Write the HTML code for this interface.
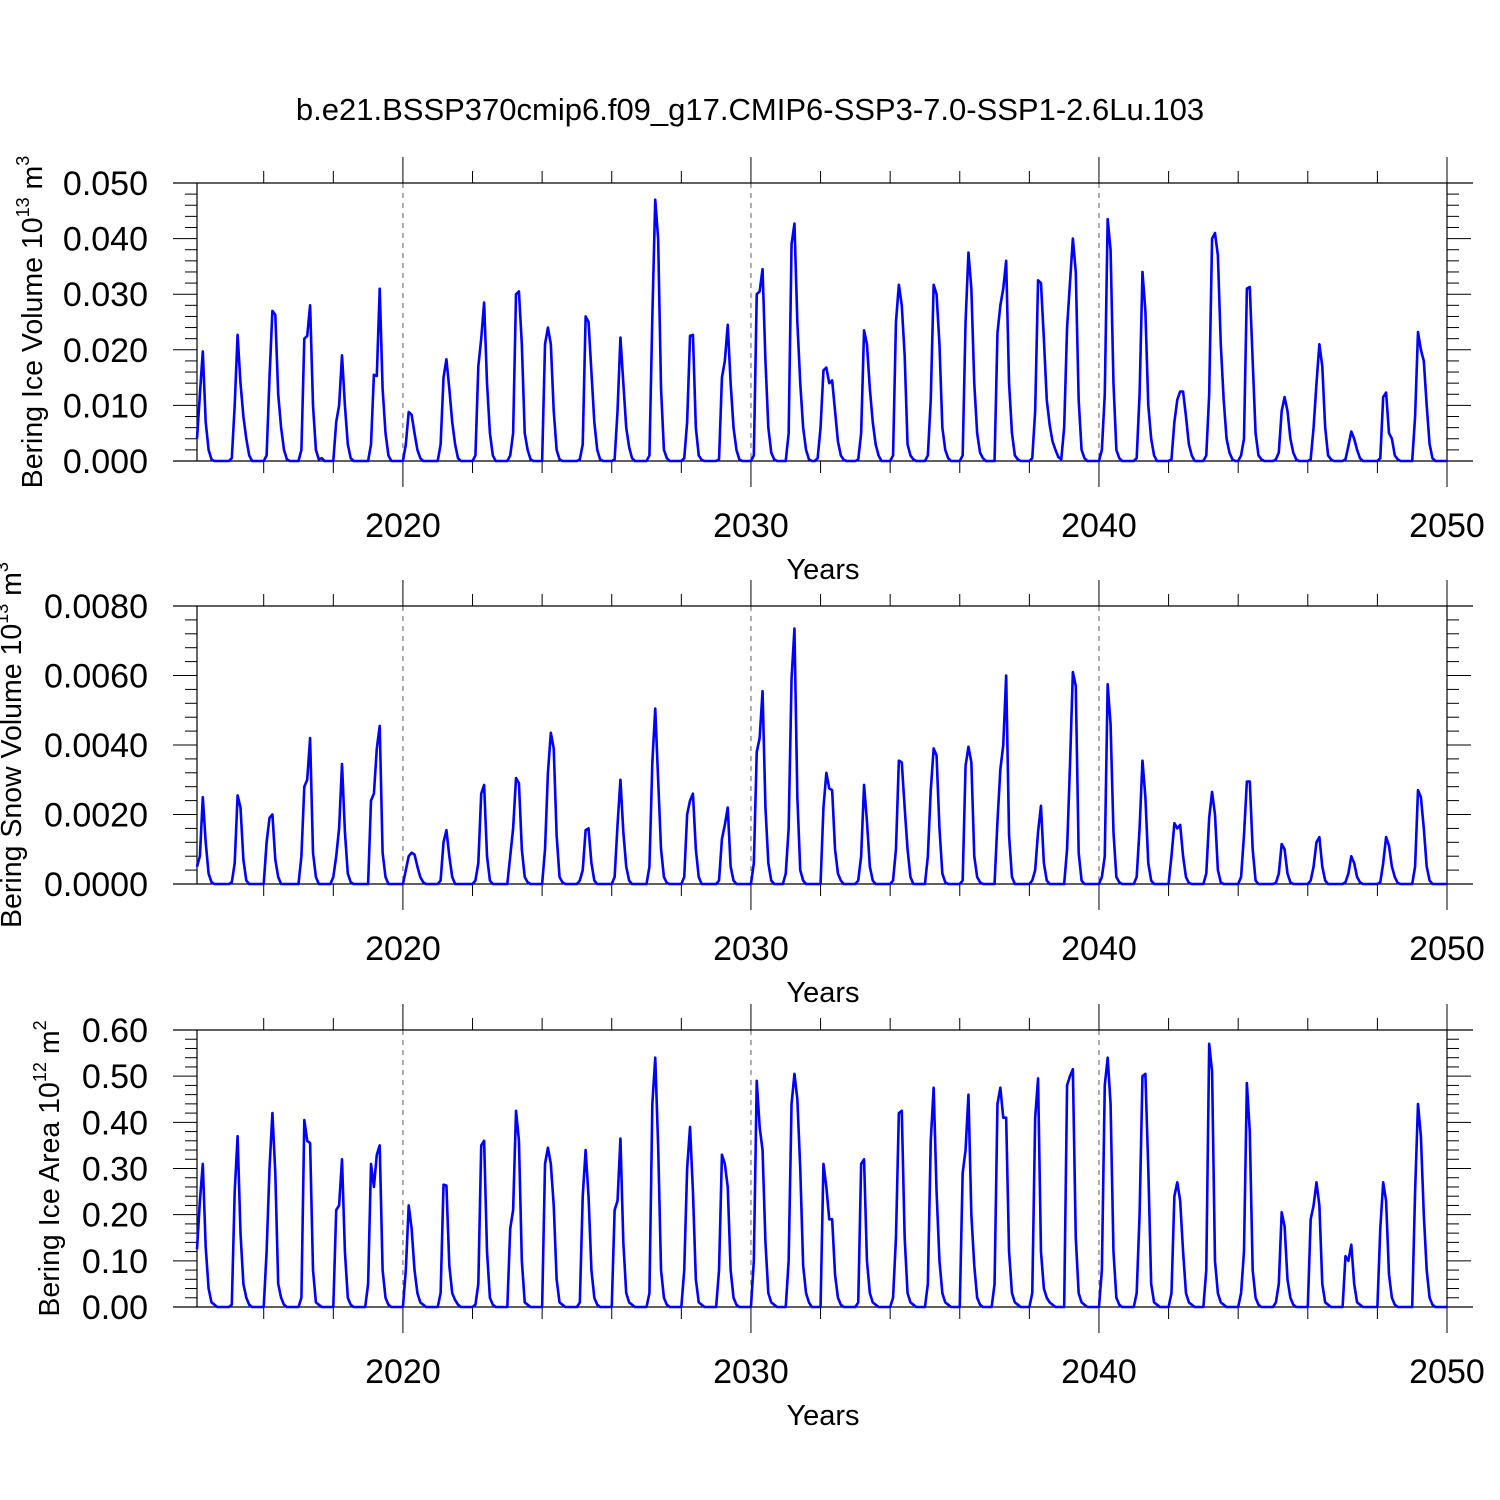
<!DOCTYPE html>
<html><head><meta charset="utf-8"><style>
html,body{margin:0;padding:0;background:#fff}
svg{display:block;font-family:"Liberation Sans",Arial,sans-serif}
</style></head><body>
<svg id="chart" width="1500" height="1500" viewBox="0 0 1500 1500" xmlns="http://www.w3.org/2000/svg">
<rect width="1500" height="1500" fill="#fff"/>
<text x="750" y="120" font-size="31" text-anchor="middle">b.e21.BSSP370cmip6.f09_g17.CMIP6-SSP3-7.0-SSP1-2.6Lu.103</text>
</svg>
<script>
// Monthly values per year (first 8 months of each year, remaining months ~0)
const startYear = 2014;
const iceVolume = [ // x 1e-3 (10^13 m3)
[4,12,19.7,7,2,0.3,0,0],[0.5,10,22.7,14,8,4,1,0],[1,15,27,26.3,12,6,2,0.3],[2,22,22.5,28,10,2,0.3,0.5],
[7,10,19,10,3,0.5,0,0],[3,15.5,15.3,31,13,5,1,0],[3,8.8,8.3,5,2,0.5,0,0],[3,15,18.3,13,7,3,0.5,0],
[1,17,22,28.5,14,5,1,0],[1,5,30,30.5,21,5,2,0.3],[21,24,21,9,2,0.3,0,0],[0.3,3,26,25,16,7,2,0.3],
[0.3,9,22.2,14,6,2.5,0.5,0],[1,26,47,40,13,2,0.5,0],[0.5,7,22.5,22.7,6,1,0.2,0],[0.3,15,18,24.5,14,6,2,0.3],
[1,30,30.5,34.5,18,6,1.5,0.3],[5,39,42.7,25,14,6,2,0.3,0,0,0.5,6],[16.3,16.8,14,14.5,9,3.5,1,0.2],[0.3,5,23.5,21,13,7,3,1],
[1,25,31.7,28,19,3,1,0.3],[1,11,31.7,30,21,6,2,0.5],[1,25,37.5,31,14,5,1.5,0.5],[23,28,31,36,14,5,1,0.3],
[0.5,9,32.5,32,22,11,6.5,3.5,2,0.7,0.3,6],[24,32,40,34,11,2,0.5,0],[2,12,43.5,38,14,2,0.5,0],[0.5,12,34,27,10,4,1,0],
[0.3,7,11,12.5,12.5,8,3,1],[1,12,40,41,37,21,11,4,1.5,0.3,0,0],[1,4,31,31.3,18,5,1,0.3],[0.3,1.5,9,11.5,9,4,1.5,0.3],
[0.3,6,14,21,17,6,1,0.3],[0.3,2.7,5.3,4,2,0.5,0,0],[0.5,11.5,12.3,5,4,1,0.3,0],[8,23.2,20,18,10,3,0.5,0]
];
const snowVolume = [ // x 1e-4
[5,8,25,12,3,0.5,0,0],[0.5,6,25.5,22,7,1,0,0],[12,19,20,7,2,0,0,0],[8,28,30,42,9,2,0,0,0,0,0,2],
[8,16,34.5,15,3,0.5,0,0],[24,26,39,45.5,9,2,0,0],[4,8,9,8.5,5,2,0.5,0],[1,12,15.5,8,2,0,0,0],
[1,6,26,28.5,8,1,0,0],[8,16,30.5,29,10,2,0.5,0],[10,32,43.5,39,14,2,0.5,0],[1,4,15.5,16,6,1,0,0],
[2,17,30,15,5,1,0,0],[5,35,50.5,30,10,2,0.3,0],[2,20,24,26,10,2,0,0],[1,13,17,22,5,1,0,0],
[6,38,42,55.5,22,6,1,0,0,0,0,3],[16,59,73.5,25,4,1,0,0],[22,32,27.5,27,10,3,1,0],[1,8,28.5,18,5,1,0,0],
[1,10,35.5,35,22,10,2,0],[8,27,39,37,16,3,0.5,0],[1,34,39.5,35,8,2,0.5,0],[18,33,40,60,14,2,0,0],
[1,4,15,22.5,6,1,0,0],[10,34,61,57,9,1,0,0],[2,8,57.5,46,15,2,0.5,0],[2,16,35.5,25,6,1,0,0],
[8,17.5,16,17,8,2,0.3,0],[3,19,26.5,20,4,0.5,0,0],[2,14,29.5,29.5,10,1,0,0],[0.3,3,11.5,10,3,0.5,0,0],
[1,5,12,13.5,5,1,0,0],[0.5,3,8,6,2,0.5,0,0],[0.5,6,13.5,11,5,2,0.3,0],[5,27,25,16,5,1,0,0]
];
const iceArea = [ // x 1e-2 (10^12 m2)
[12.5,23,31,13,4,1,0.5,0],[0.5,25,37,16,5,2,0.5,0],[12,30,42,29,5,2,0.5,0],[2,40.5,36,35.5,8,1,0.5,0],
[21,22,32,12,2,0.5,0,0,0,0,0,5],[31,26,33,35,8,2,0.5,0],[8,22,17,8,3,1,0.5,0],[3,26.5,26.3,9,3,1.5,0.5,0],
[0.5,5,35,36,12,2,0.5,0],[17,21,42.5,36,10,1,0.5,0],[31,34.5,31,22,6,1,0.5,0],[1,24,34,24,8,2,0.5,0],
[21,23,36.5,14,3,1,0.5,0],[3,44,54,35,8,2,0.5,0],[8,30,39,25,6,1,0.5,0],[8,33,31,26,8,2,0.5,0],
[10,49,39,34,14,3,1,0.5],[10,44,50.5,45,30,9,3,1],[31,26,19,19,7,2,0.5,0],[1,31,32,10,3,1,0.5,0],
[2,15,42,42.5,15,3,1,0.5],[5,36,47.5,25,10,3,1,0.5],[29,34,46,20,9,2,0.5,0,0,0,0,5],[44,47.5,41,41,12,3,1,0.5],
[3,41,49.5,12,4,2,1,0.5],[48,50,51.5,15,3,1,0.5,0],[8,48,54,44,12,2,0.5,0],[3,20,50,50.5,30,5,1,0.5],
[3,24,27,23,12,3,1,0.5],[8,57,51,10,3,1,0.5,0],[3,12,48.5,38,8,2,0.5,0],[1,5,20.5,17.5,6,2,0.5,0],
[19,22,27,22,5,1,0.5,0],[11,10,13.5,5,1,0.5,0,0],[17,27,23,7,2,0.5,0,0],[25,44,37,20,8,2,0.5,0]
];
const xTickYears = [2020, 2030, 2040, 2050];
const iceVolTicks = ["0.000","0.010","0.020","0.030","0.040","0.050"];
const snowVolTicks = ["0.0000","0.0020","0.0040","0.0060","0.0080"];
const iceAreaTicks = ["0.00","0.10","0.20","0.30","0.40","0.50","0.60"];

const NS = "http://www.w3.org/2000/svg";
const svg = document.getElementById('chart');
function mk(tag, attrs, parent){ const e=document.createElementNS(NS,tag); for(const k in attrs) e.setAttribute(k,attrs[k]); (parent||svg).appendChild(e); return e; }
const xMin = 2014 + 1/12, xMax = 2050, xL = 197, xR = 1447;
const xs = t => xL + (t - xMin) / (xMax - xMin) * (xR - xL);

function series(yearly, scale){
  const out=[];
  yearly.forEach(y=>{ for(let m=0;m<12;m++) out.push((y[m]||0)*scale); });
  return out;
}

function panel(cfg){
  const g = mk('g', {});
  
  
  const top=cfg.top, bot=cfg.bot;
  const ys = v => bot - v / cfg.ymax * (bot - top);
  [2020,2030,2040].forEach(yr=>{
    const l=mk('line',{x1:xs(yr),x2:xs(yr),y1:top,y2:bot,stroke:'#777','stroke-width':1.2,'stroke-dasharray':'5,5'},g);
    
    
  });
  mk('line',{x1:173,x2:1473,y1:top,y2:top,stroke:'#000','stroke-width':1.2},g);
  mk('line',{x1:173,x2:1473,y1:bot,y2:bot,stroke:'#000','stroke-width':1.2},g);
  mk('line',{x1:xL,x2:xL,y1:top,y2:bot,stroke:'#000','stroke-width':1.2},g);
  mk('line',{x1:xR,x2:xR,y1:top,y2:bot,stroke:'#000','stroke-width':1.2},g);
  const nMinor = Math.round(cfg.ymax / cfg.minor);
  for(let i=0;i<=nMinor;i++){
    const v=i*cfg.minor, y=ys(v);
    const major = (i % cfg.perMajor)===0;
    const len = major?24:12;
    mk('line',{x1:xL-len,x2:xL,y1:y,y2:y,stroke:'#000','stroke-width':1},g);
    mk('line',{x1:xR,x2:xR+len,y1:y,y2:y,stroke:'#000','stroke-width':1},g);
  }
  cfg.labels.forEach((lab,i)=>{
    const t=mk('text',{x:148,y:ys(i*cfg.minor*cfg.perMajor)+12,'font-size':34,'text-anchor':'end'},g);
    t.textContent=lab;
    
    
  });
  for(let yr=2016; yr<=2050; yr+=2){
    const major = xTickYears.includes(yr);
    const len = major?26:12, x=xs(yr);
    mk('line',{x1:x,x2:x,y1:bot,y2:bot+len,stroke:'#000','stroke-width':1},g);
    mk('line',{x1:x,x2:x,y1:top-len,y2:top,stroke:'#000','stroke-width':1},g);
  }
  xTickYears.forEach(yr=>{
    const t=mk('text',{x:xs(yr),y:bot+76,'font-size':34,'text-anchor':'middle'},g);
    t.textContent=String(yr);
    
    
  });
  const xt=mk('text',{x:823,y:bot+118,'font-size':29,'text-anchor':'middle'},g);
  xt.textContent='Years';
  
  
  const yt=mk('text',{x:0,y:0,'font-size':28.5,'text-anchor':'middle',transform:`translate(${cfg.titleX},${(top+bot)/2}) rotate(-90)`},g);
  
  
  yt.appendChild(document.createTextNode(cfg.title+' 10'));
  const s1=mk('tspan',{dy:-13,'font-size':18},yt); s1.textContent=cfg.exp;
  const s2=mk('tspan',{dy:13,'font-size':28.5},yt); s2.textContent=' m';
  const s3=mk('tspan',{dy:-13,'font-size':18},yt); s3.textContent=cfg.unitExp;
  const vals = series(cfg.data, cfg.scale);
  let d='';
  vals.forEach((v,i)=>{ const t=xMin+i/12; d+=(i?'L':'M')+xs(t).toFixed(2)+','+ys(v).toFixed(2); });
  const p=mk('path',{d:d,fill:'none',stroke:'#0000ff','stroke-width':2.6,'stroke-linejoin':'round'},g);
  
  
}

panel({name:'ice-volume-panel',lineName:'ice-volume-line',top:183,bot:461,ymax:0.05,minor:0.002,perMajor:5,labels:iceVolTicks,
  titleX:42,title:'Bering Ice Volume',exp:'13',unitExp:'3',data:iceVolume,scale:0.001});
panel({name:'snow-volume-panel',lineName:'snow-volume-line',top:606,bot:884,ymax:0.008,minor:0.0004,perMajor:5,labels:snowVolTicks,
  titleX:21,title:'Bering Snow Volume',exp:'13',unitExp:'3',data:snowVolume,scale:0.0001});
panel({name:'ice-area-panel',lineName:'ice-area-line',top:1030,bot:1307,ymax:0.6,minor:0.02,perMajor:5,labels:iceAreaTicks,
  titleX:59,title:'Bering Ice Area',exp:'12',unitExp:'2',data:iceArea,scale:0.01});
</script>
</body></html>
